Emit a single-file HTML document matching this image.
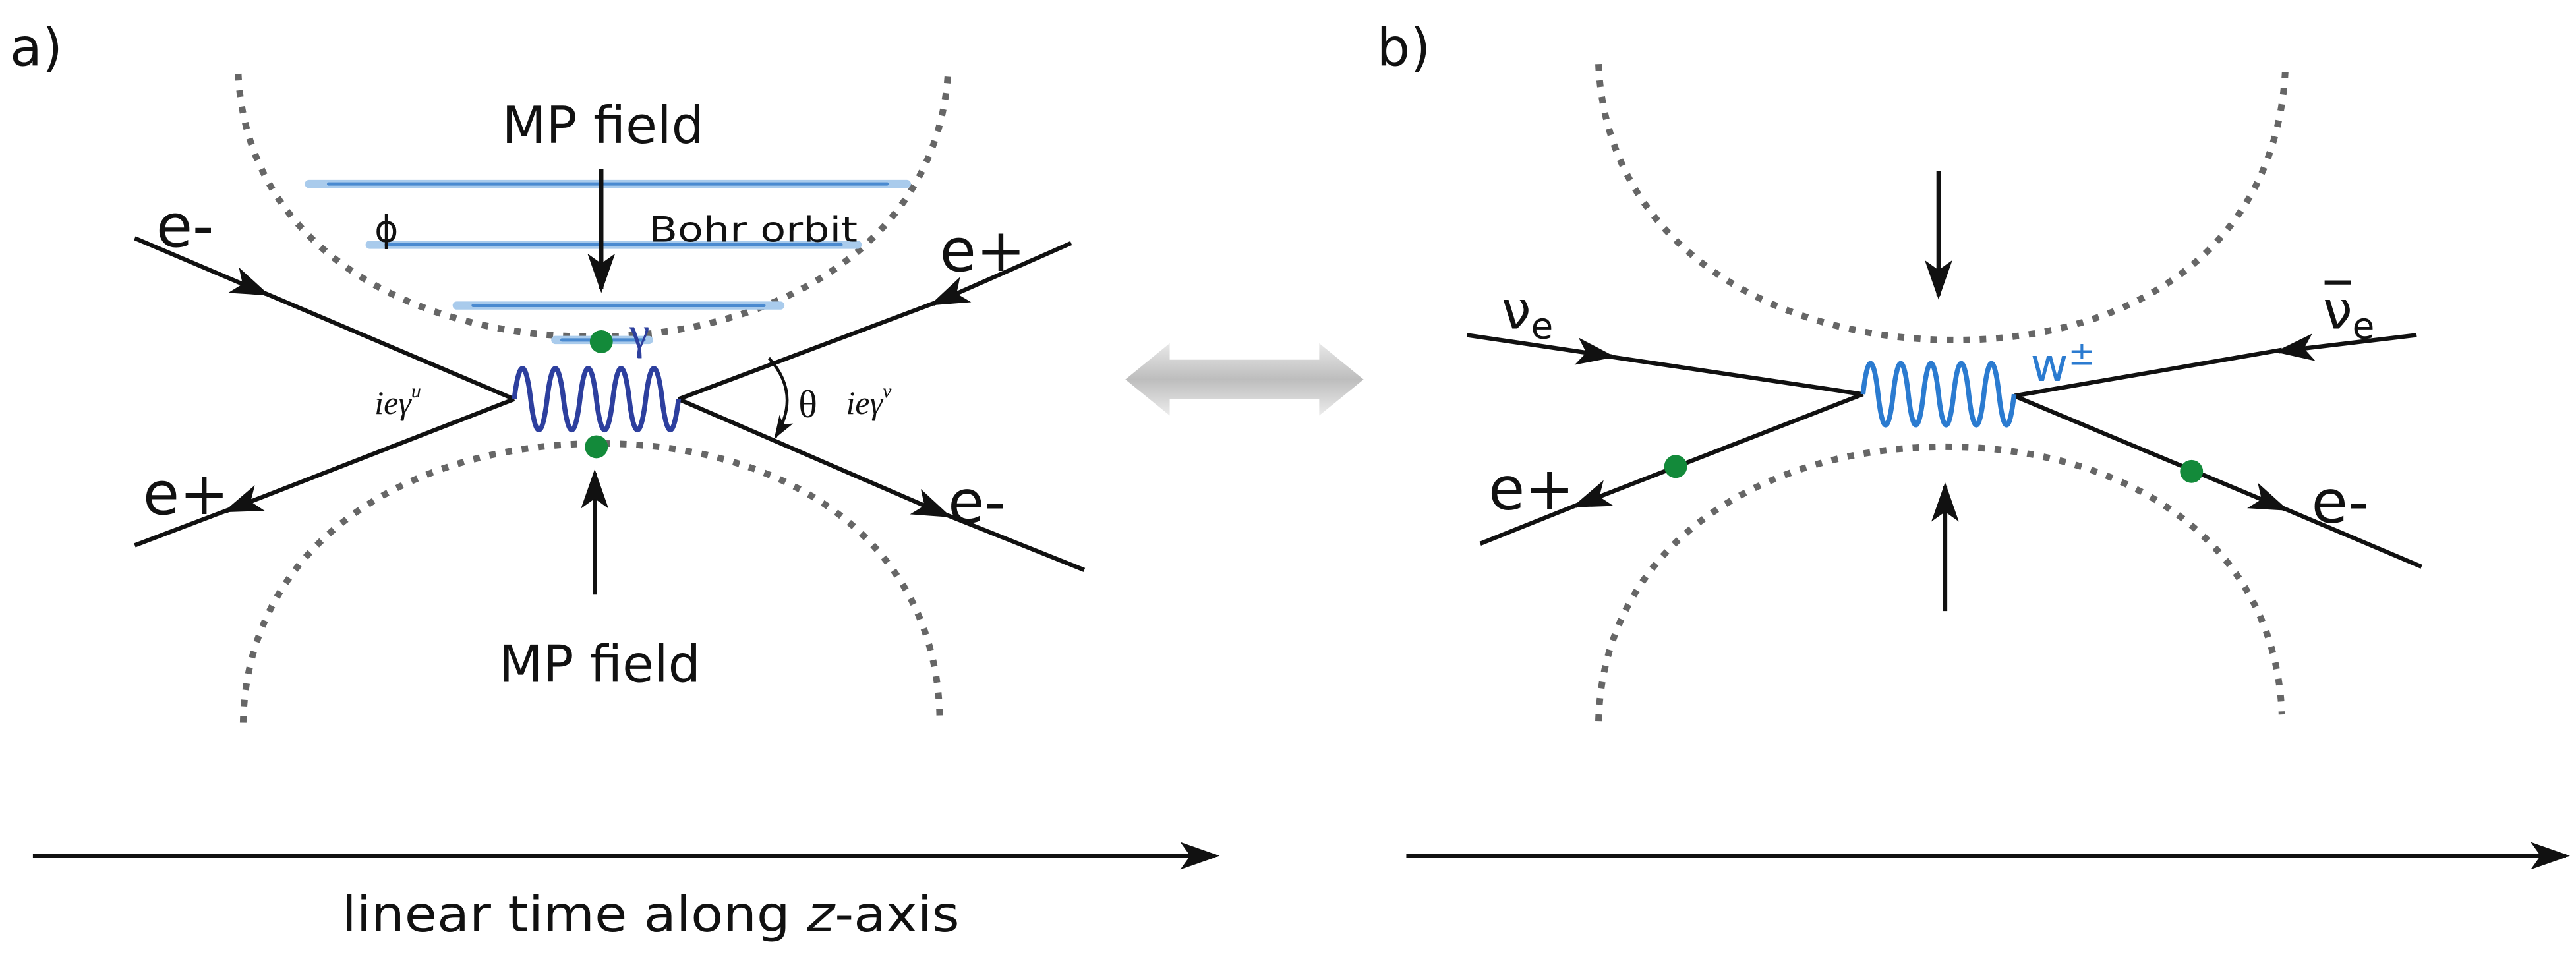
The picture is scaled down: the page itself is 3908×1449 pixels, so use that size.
<!DOCTYPE html>
<html><head><meta charset="utf-8"><style>
html,body{margin:0;padding:0;background:#fff;}
svg{display:block;}
text{font-family:"DejaVu Sans","Liberation Sans",sans-serif;fill:#111;}
.s{font-family:"Liberation Serif","DejaVu Serif",serif;}
</style></head><body>
<svg width="3908" height="1449" viewBox="0 0 1568 581.4" xmlns="http://www.w3.org/2000/svg">
<defs>
<marker id="ah" viewBox="0 0 20 14" refX="18" refY="7" markerWidth="24" markerHeight="17" markerUnits="userSpaceOnUse" orient="auto">
<path d="M0,0 L20,7 L0,14 L5,7 Z" fill="#111"/></marker>
<marker id="ah2" viewBox="0 0 20 14" refX="18" refY="7" markerWidth="14" markerHeight="10" markerUnits="userSpaceOnUse" orient="auto">
<path d="M0,0 L20,7 L0,14 L5,7 Z" fill="#111"/></marker>
<linearGradient id="gr" x1="0" x2="0" y1="0" y2="1">
<stop offset="0" stop-color="#e8e8e8"/><stop offset="0.5" stop-color="#bdbdbd"/><stop offset="1" stop-color="#ececec"/></linearGradient>
</defs>

<!-- Panel a -->
<text x="6" y="40" font-size="32">a)</text>
<g fill="none" stroke="#666" stroke-width="4" stroke-dasharray="4 6">
<path d="M145,45 C150,150 250,205 361,205 C470,205 570,150 577,45"/>
<path d="M148,440 C150,330 250,270 365,270 C480,270 570,330 572,437"/>
</g>
<g fill="none" stroke-linecap="round">
<g stroke="#a9cbec" stroke-width="5">
<line x1="188" y1="112" x2="552" y2="112"/>
<line x1="225" y1="149" x2="522" y2="149"/>
<line x1="278" y1="186" x2="475" y2="186"/>
<line x1="338" y1="207" x2="395" y2="207"/>
</g>
<g stroke="#4a8ad0" stroke-width="2">
<line x1="200" y1="112" x2="540" y2="112"/>
<line x1="235" y1="149" x2="512" y2="149"/>
<line x1="288" y1="186" x2="465" y2="186"/>
<line x1="342" y1="207" x2="392" y2="207"/>
</g>
</g>
<g stroke="#111" stroke-width="2.6" fill="none">
<path d="M82,145 L162,179" marker-end="url(#ah)"/><path d="M160,178 L313,243"/>
<path d="M652,148 L568,185" marker-end="url(#ah)"/><path d="M570,184 L413,243"/>
<path d="M313,243 L138,311" marker-end="url(#ah)"/><path d="M140,310 L82,332"/>
<path d="M413,243 L577,314" marker-end="url(#ah)"/><path d="M575,313 L660,347"/>
<path d="M366,103 L366,176" marker-end="url(#ah)"/>
<path d="M362,362 L362,288" marker-end="url(#ah)"/>
<path d="M468,218 Q488,240 472,266" stroke-width="1.8" marker-end="url(#ah2)"/>
</g>
<path d="M313,243 c3,-25 7,-25 10,0 c3,25 7,25 10,0 c3,-25 7,-25 10,0 c3,25 7,25 10,0 c3,-25 7,-25 10,0 c3,25 7,25 10,0 c3,-25 7,-25 10,0 c3,25 7,25 10,0 c3,-25 7,-25 10,0 c3,25 7,25 10,0" fill="none" stroke="#2d3f9e" stroke-width="3"/>
<circle cx="366" cy="208" r="7" fill="#138a3a"/>
<circle cx="363" cy="272" r="7" fill="#138a3a"/>
<text x="367" y="87" font-size="31" text-anchor="middle" textLength="123" lengthAdjust="spacingAndGlyphs">MP field</text>
<text x="365" y="415" font-size="31" text-anchor="middle" textLength="123" lengthAdjust="spacingAndGlyphs">MP field</text>
<text x="228" y="147" font-size="22">ϕ</text>
<text x="395" y="147" font-size="21" textLength="127" lengthAdjust="spacingAndGlyphs">Bohr orbit</text>
<text x="95" y="150" font-size="36">e-</text>
<text x="572" y="165" font-size="36">e+</text>
<text x="87" y="313" font-size="36">e+</text>
<text x="577" y="318" font-size="36">e-</text>
<text class="s" x="383" y="212" font-size="28" style="fill:#2d3f9e">γ</text>
<text class="s" x="228" y="252" font-size="20" font-style="italic">ieγ<tspan font-size="12" dy="-10">u</tspan></text>
<text class="s" x="486" y="254" font-size="24">θ</text>
<text class="s" x="515" y="252" font-size="20" font-style="italic">ieγ<tspan font-size="12" dy="-10">v</tspan></text>
<path d="M20,521 L740,521" stroke="#111" stroke-width="2.8" marker-end="url(#ah)"/>
<text x="208" y="567" font-size="30" textLength="376" lengthAdjust="spacingAndGlyphs">linear time along <tspan font-style="italic">z</tspan>-axis</text>

<!-- double arrow -->
<path d="M685,231 L712,209 L712,219 L803,219 L803,209 L830,231 L803,253 L803,243 L712,243 L712,253 Z" fill="url(#gr)"/>

<!-- Panel b -->
<text x="838" y="40" font-size="32">b)</text>
<g fill="none" stroke="#666" stroke-width="4" stroke-dasharray="4 6">
<path d="M973,39 C978,150 1080,207 1190,207 C1300,207 1385,150 1391,44"/>
<path d="M973,439 C976,330 1075,272 1184,272 C1295,272 1385,330 1389,435"/>
</g>
<g stroke="#111" stroke-width="2.6" fill="none">
<path d="M893,204 L981,217" marker-end="url(#ah)"/><path d="M979,217 L1134,240"/>
<path d="M1471,204 L1387,214" marker-end="url(#ah)"/><path d="M1389,213 L1226,241"/>
<path d="M1134,240 L959,308" marker-end="url(#ah)"/><path d="M961,307 L901,331"/>
<path d="M1226,241 L1391,310" marker-end="url(#ah)"/><path d="M1389,309 L1474,345"/>
<path d="M1180,104 L1180,180" marker-end="url(#ah)"/>
<path d="M1184,372 L1184,296" marker-end="url(#ah)"/>
</g>
<path d="M1134,240 c2.8,-25 6.4,-25 9.2,0 c2.8,25 6.4,25 9.2,0 c2.8,-25 6.4,-25 9.2,0 c2.8,25 6.4,25 9.2,0 c2.8,-25 6.4,-25 9.2,0 c2.8,25 6.4,25 9.2,0 c2.8,-25 6.4,-25 9.2,0 c2.8,25 6.4,25 9.2,0 c2.8,-25 6.4,-25 9.2,0 c2.8,25 6.4,25 9.2,0" fill="none" stroke="#2b7bd0" stroke-width="3"/>
<circle cx="1020" cy="284" r="7" fill="#138a3a"/>
<circle cx="1334" cy="287" r="7" fill="#138a3a"/>
<text x="914" y="200" font-size="32">ν<tspan font-size="22" dy="6">e</tspan></text>
<text x="1414" y="200" font-size="32">ν<tspan font-size="22" dy="6">e</tspan></text>
<line x1="1415" y1="172" x2="1431" y2="172" stroke="#111" stroke-width="2.5"/>
<text x="1236" y="232" font-size="28" style="fill:#2b7bd0">w<tspan font-size="20" dy="-10">±</tspan></text>
<text x="906" y="310" font-size="36">e+</text>
<text x="1407" y="318" font-size="36">e-</text>
<path d="M856,521 L1562,521" stroke="#111" stroke-width="2.8" marker-end="url(#ah)"/>
</svg>
</body></html>
